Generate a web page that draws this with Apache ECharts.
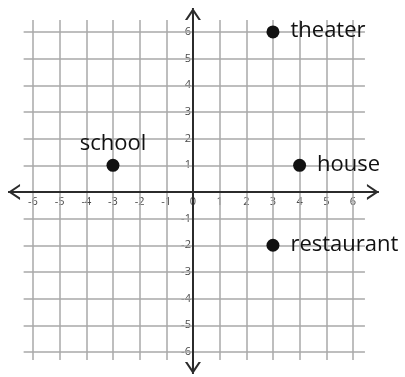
<!DOCTYPE html>
<html>
<head>
<meta charset="utf-8">
<script src="https://cdn.jsdelivr.net/npm/echarts@6/dist/echarts.min.js"></script>
<style>
  html, body { margin: 0; padding: 0; background: #fff; }
  #chart { width: 405px; height: 377px; }
</style>
</head>
<body>
<div id="chart"></div>
<script>
// places on the grid
const places = ['theater', 'school', 'house', 'restaurant'];
const placeX = [3, -3, 4, 3];
const placeY = [6, 1, 1, -2];

// grid / tick values
const tickValues = [-6, -5, -4, -3, -2, -1, 0, 1, 2, 3, 4, 5, 6];

// open chevron arrow head (points up, ECharts rotates it along the line)
const ARROW = 'path://M0,12 L8,0 L16,12 L13.6,12 L8,3.6 L2.4,12 Z M7,0 L9,0 L9,12 L7,12 Z';

const UNIT = 373.3 / 14; // px per unit, both axes
const chart = echarts.init(document.getElementById('chart'));

function gridLines() {
  const lines = [];
  tickValues.forEach(v => {
    lines.push([{ coord: [v, -6.3] }, { coord: [v, 6.45] }]);
    lines.push([{ coord: [-6.35, v] }, { coord: [6.45, v] }]);
  });
  return lines;
}

function arrowEnd(coord) {
  return { coord: coord, symbol: ARROW, symbolSize: [16, 12] };
}

const points = places.map((name, i) => ({
  name: name,
  value: [placeX[i], placeY[i]],
  label: name === 'school'
    ? { position: 'top', distance: 4 }
    : { position: 'right', distance: 11, offset: [0, -1] }
}));

chart.setOption({
  animation: false,
  backgroundColor: '#fff',
  grid: { left: 6.3, top: 5.3, width: 373.3, height: 373.3, outerBoundsMode: 'none', containLabel: false },
  xAxis: {
    type: 'value',
    min: -7,
    max: 7,
    interval: 1,
    position: 'bottom',
    offset: -7 * UNIT, // move labels up onto y = 0
    axisLine: { show: false, onZero: false },
    axisTick: { show: false },
    splitLine: { show: false },
    axisLabel: {
      margin: 4,
      fontFamily: 'Open Sans',
      fontSize: 11,
      color: '#4a4a4a',
      formatter: v => (Math.abs(v) === 7 ? '' : String(v))
    }
  },
  yAxis: {
    type: 'value',
    min: -7,
    max: 7,
    interval: 1,
    position: 'left',
    offset: -7 * UNIT, // move labels right onto x = 0
    axisLine: { show: false, onZero: false },
    axisTick: { show: false },
    splitLine: { show: false },
    axisLabel: {
      margin: 2,
      fontFamily: 'Open Sans',
      fontSize: 11,
      color: '#4a4a4a',
      formatter: v => (Math.abs(v) === 7 || v === 0 ? '' : String(v))
    }
  },
  series: [
    {
      name: 'grid',
      type: 'line',
      data: [],
      silent: true,
      z: 1,
      markLine: {
        silent: true,
        z: 1,
        symbol: ['none', 'none'],
        label: { show: false },
        lineStyle: { color: '#a8a8a8', width: 1.5, type: 'solid' },
        emphasis: { disabled: true },
        data: gridLines()
      }
    },
    {
      name: 'axes',
      type: 'line',
      data: [],
      silent: true,
      z: 2,
      markLine: {
        silent: true,
        z: 2,
        symbol: ['none', 'none'],
        label: { show: false },
        lineStyle: { color: '#2b2b2b', width: 2, type: 'solid' },
        emphasis: { disabled: true },
        data: [
          [arrowEnd([-6.71, 0]), arrowEnd([6.75, 0])],
          [arrowEnd([0, -6.6]), arrowEnd([0, 6.67])]
        ]
      }
    },
    {
      name: 'places',
      type: 'scatter',
      z: 10,
      symbolSize: 13,
      itemStyle: { color: '#111', opacity: 1 },
      label: {
        show: true,
        formatter: '{b}',
        fontFamily: 'Open Sans',
        fontSize: 22,
        color: '#111'
      },
      data: points
    }
  ]
});
</script>
</body>
</html>
